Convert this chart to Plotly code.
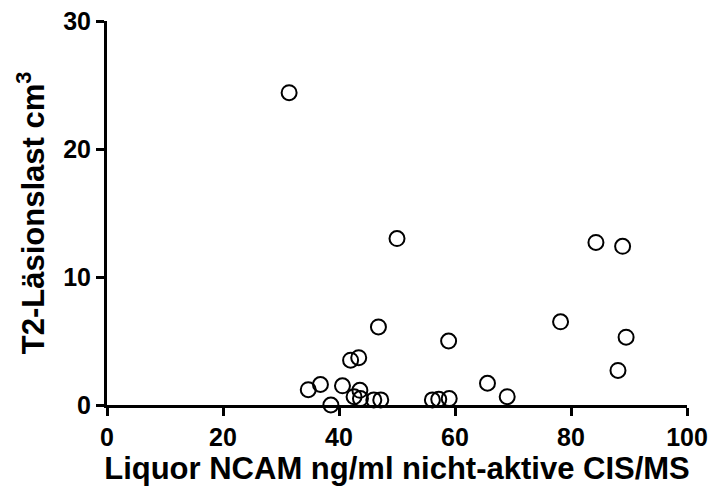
import plotly.graph_objects as go

ncam = [31.4, 50.0, 84.3, 88.9, 89.5, 88.1, 78.2, 46.8, 58.9, 42.0, 43.4, 34.7, 36.8,
        40.6, 38.6, 42.6, 43.6, 43.7, 46.0, 47.2, 56.1, 57.2, 59.0, 65.6, 69.0]
lesion = [24.4, 13.0, 12.7, 12.4, 5.3, 2.7, 6.5, 6.1, 5.0, 3.5, 3.7, 1.2, 1.6,
          1.5, 0.0, 0.65, 1.15, 0.5, 0.4, 0.4, 0.4, 0.45, 0.5, 1.7, 0.65]

x_ticks = [0, 20, 40, 60, 80, 100]
y_ticks = [0, 10, 20, 30]

fig = go.Figure()
fig.add_trace(go.Scatter(
    x=ncam, y=lesion, mode="markers", cliponaxis=False,
    marker=dict(symbol="circle-open", size=15, color="black", line=dict(width=2, color="black")),
    showlegend=False,
))

font_family = "Liberation Sans, Arial, sans-serif"
axis_common = dict(
    showline=True, linecolor="black", linewidth=3,
    ticks="outside", ticklen=8, tickwidth=3, tickcolor="black",
    showgrid=False, zeroline=False, automargin=False,
    tickfont=dict(family=font_family, size=25, color="black", weight="bold"),
)
fig.update_xaxes(range=[0, 100], tickvals=x_ticks, ticktext=[str(v) for v in x_ticks],
                 title=dict(text="<b>Liquor NCAM ng/ml nicht-aktive CIS/MS</b>",
                            font=dict(family=font_family, size=31, color="black"), standoff=6),
                 **axis_common)
fig.update_yaxes(range=[0, 30], tickvals=y_ticks, ticktext=[str(v) for v in y_ticks],
                 title=dict(text="<b>T2-Läsionslast cm<sup>3</sup></b>",
                            font=dict(family=font_family, size=31, color="black"), standoff=10),
                 **axis_common)
fig.update_layout(
    width=714, height=497,
    margin=dict(l=107, r=27, t=21, b=92),
    plot_bgcolor="white", paper_bgcolor="white",
)
fig.write_html("out.html")
